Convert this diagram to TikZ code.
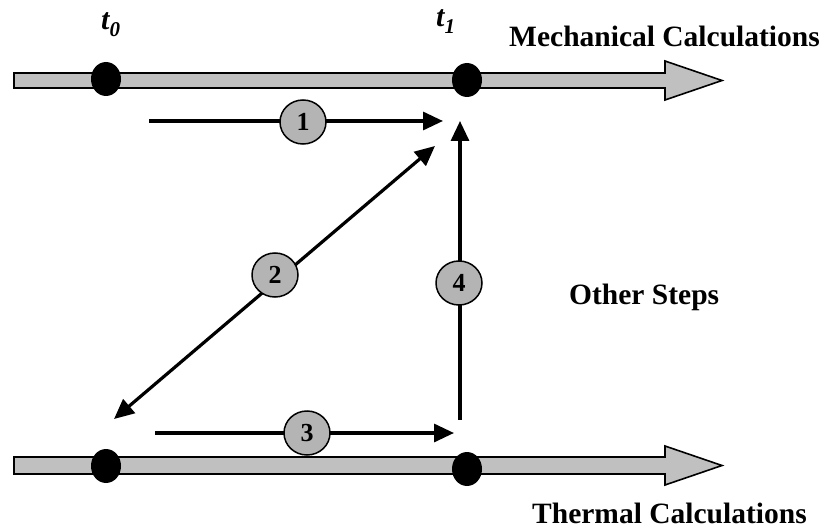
\documentclass[tikz,border=0pt]{standalone}
\usepackage{fontspec}
\setmainfont{Liberation Serif}
\usetikzlibrary{arrows.meta,shapes.geometric}
\definecolor{bargray}{RGB}{192,192,192}
\definecolor{bubgray}{RGB}{180,180,180}
\tikzset{
  timebar/.style={fill=bargray,draw=black,line width=1.6pt,line join=miter},
  instant/.style={ellipse,fill=black,minimum width=30pt,minimum height=34pt,inner sep=0pt},
  bubble/.style={ellipse,fill=bubgray,draw=black,line width=1.5pt,minimum width=46pt,minimum height=44pt,inner sep=0pt,font=\fontsize{26}{26}\selectfont\bfseries},
  flow/.style={line width=3.2pt,-{Triangle[length=20pt,width=18pt]}},
  biflow/.style={line width=3.2pt,{Triangle[length=20pt,width=18pt]}-{Triangle[length=20pt,width=18pt]}},
  label/.style={anchor=base west,inner sep=0pt,font=\fontsize{29.5}{30}\selectfont\bfseries},
  tlabel/.style={anchor=base west,inner sep=0pt,font=\fontsize{30}{30}\selectfont\bfseries\itshape}
}
\begin{document}
\begin{tikzpicture}[x=1pt,y=-1pt]
\useasboundingbox (0,0) rectangle (826,529);
% time bars
\draw[timebar] (14,73) -- (665,73) -- (665,61) -- (722,80.5) -- (665,100) -- (665,88) -- (14,88) -- cycle;
\draw[timebar] (14,457) -- (665,457) -- (665,446) -- (722,465.5) -- (665,485) -- (665,474) -- (14,474) -- cycle;
% instants
\node[instant] (t0top) at (106,79) {};
\node[instant] (t1top) at (467,80) {};
\node[instant] (t0bot) at (106,466) {};
\node[instant] (t1bot) at (467,469) {};
% labels
\node[tlabel] (lt0) at (101,30) {t\raisebox{-7pt}{\fontsize{21}{21}\selectfont 0}};
\node[tlabel] (lt1) at (436,27) {t\raisebox{-7pt}{\fontsize{21}{21}\selectfont 1}};
\node[label] (mech) at (509,47) {Mechanical Calculations};
\node[label] (other) at (569,304) {Other Steps};
\node[label] (therm) at (532,523) {Thermal Calculations};
% connector end points
\coordinate (a1s) at (149,121);
\coordinate (a1e) at (443,121);
\coordinate (a2s) at (114,419);
\coordinate (a2e) at (435,146);
\coordinate (a3s) at (155,433);
\coordinate (a3e) at (454,433);
\coordinate (a4s) at (460,420);
\coordinate (a4e) at (460,121);
% connectors
\draw[flow] (a1s) -- (a1e);
\draw[biflow] (a2s) -- (a2e);
\draw[flow] (a3s) -- (a3e);
\draw[flow] (a4s) -- (a4e);
% bubbles
\node[bubble] (b1) at (303,122) {1};
\node[bubble] (b2) at (275,275) {2};
\node[bubble] (b3) at (307,433) {3};
\node[bubble] (b4) at (459,283) {4};
\end{tikzpicture}
\end{document}
